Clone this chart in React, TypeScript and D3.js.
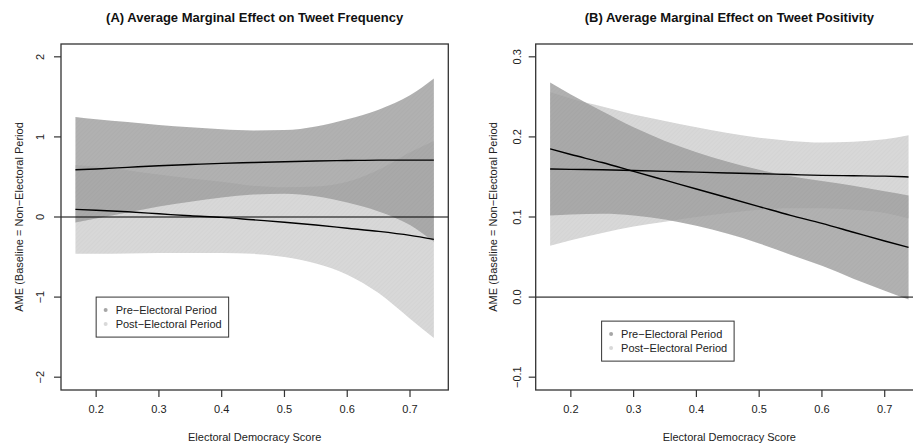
import * as d3 from 'd3'
import { useRef, useEffect } from 'react'

const W = 913
const H = 444

// electoral democracy score grid (x)
const demScore = [0.167, 0.2, 0.25, 0.3, 0.35, 0.4, 0.45, 0.5, 0.55, 0.6, 0.65, 0.7, 0.738]

// (A) tweet frequency
const freqPreFit = [0.59, 0.6, 0.62, 0.64, 0.655, 0.67, 0.68, 0.69, 0.7, 0.705, 0.71, 0.71, 0.71]
const freqPreHi = [1.25, 1.22, 1.185, 1.15, 1.12, 1.095, 1.08, 1.085, 1.13, 1.22, 1.34, 1.52, 1.73]
const freqPreLo = [-0.07, -0.02, 0.055, 0.13, 0.19, 0.245, 0.28, 0.29, 0.26, 0.18, 0.07, -0.1, -0.31]
const freqPostFit = [0.095, 0.085, 0.065, 0.04, 0.015, -0.005, -0.035, -0.065, -0.1, -0.14, -0.18, -0.23, -0.28]
const freqPostHi = [0.65, 0.63, 0.585, 0.53, 0.48, 0.44, 0.39, 0.37, 0.38, 0.44, 0.59, 0.81, 0.95]
const freqPostLo = [-0.46, -0.46, -0.455, -0.45, -0.45, -0.45, -0.46, -0.5, -0.58, -0.72, -0.95, -1.27, -1.51]

// (B) tweet positivity
const posPreFit = [0.185, 0.178, 0.168, 0.157, 0.146, 0.135, 0.124, 0.113, 0.102, 0.092, 0.081, 0.07, 0.062]
const posPreHi = [0.268, 0.253, 0.232, 0.212, 0.195, 0.181, 0.169, 0.159, 0.151, 0.145, 0.139, 0.132, 0.127]
const posPreLo = [0.102, 0.103, 0.104, 0.102, 0.097, 0.089, 0.079, 0.067, 0.053, 0.039, 0.023, 0.008, -0.003]
const posPostFit = [0.16, 0.1595, 0.159, 0.158, 0.157, 0.156, 0.155, 0.154, 0.153, 0.152, 0.1515, 0.151, 0.15]
const posPostHi = [0.256, 0.248, 0.238, 0.228, 0.22, 0.212, 0.205, 0.199, 0.195, 0.193, 0.194, 0.197, 0.202]
const posPostLo = [0.064, 0.071, 0.08, 0.088, 0.094, 0.1, 0.105, 0.109, 0.111, 0.111, 0.109, 0.105, 0.098]

const xTicks = [0.2, 0.3, 0.4, 0.5, 0.6, 0.7]
const freqTicks = [-2, -1, 0, 1, 2]
const freqTickLabels = ['\u22122', '\u22121', '0', '1', '2']
const posTicks = [-0.1, 0, 0.1, 0.2, 0.3]
const posTickLabels = ['\u22120.1', '0.0', '0.1', '0.2', '0.3']
const legendLabels = ['Pre\u2212Electoral Period', 'Post\u2212Electoral Period']

const FONT = "'Liberation Sans', Arial, Helvetica, sans-serif"
const DARK = 'rgb(158,158,158)'
const LIGHT = 'rgb(216,216,216)'

const drawPanel = (svg, opts) => {
  const { id, left, title, yDomain, yTicks, yLabels, pre, post, legendAt, tickOff } = opts
  const top = 44
  const bottom = 390
  const right = left + 387.3

  const x = d3.scaleLinear().domain([0.144, 0.761]).range([left, right])
  const y = d3.scaleLinear().domain(yDomain).range([bottom, top])

  const g = svg.append('g')

  g.append('clipPath')
    .attr('id', 'clip-' + id)
    .append('rect')
    .attr('x', left)
    .attr('y', top)
    .attr('width', right - left)
    .attr('height', bottom - top)

  const plot = g.append('g').attr('clip-path', 'url(#clip-' + id + ')')

  const band = (fit, lo, hi) =>
    d3
      .area()
      .x((d, i) => x(demScore[i]))
      .y0((d, i) => y(lo[i]))
      .y1((d, i) => y(hi[i]))
      .curve(d3.curveMonotoneX)(fit)

  const line = (fit) =>
    d3
      .line()
      .x((d, i) => x(demScore[i]))
      .y((d) => y(d))
      .curve(d3.curveMonotoneX)(fit)

  // post band first (light), then pre band (dark, semi-transparent)
  plot.append('path').attr('d', band(post.fit, post.lo, post.hi)).attr('fill', LIGHT)
  plot.append('path').attr('d', band(post.fit, post.lo, post.hi)).attr('fill', 'url(#hatch)')
  plot
    .append('path')
    .attr('d', band(pre.fit, pre.lo, pre.hi))
    .attr('fill', DARK)
    .attr('fill-opacity', 0.8)
  plot.append('path').attr('d', band(pre.fit, pre.lo, pre.hi)).attr('fill', 'url(#hatch)')

  plot
    .append('line')
    .attr('x1', left)
    .attr('x2', right)
    .attr('y1', y(0))
    .attr('y2', y(0))
    .attr('stroke', '#000')
    .attr('stroke-width', 1)

  ;[pre.fit, post.fit].forEach((fit) => {
    plot
      .append('path')
      .attr('d', line(fit))
      .attr('fill', 'none')
      .attr('stroke', '#000')
      .attr('stroke-width', 1.4)
  })

  // box
  g.append('rect')
    .attr('x', left)
    .attr('y', top)
    .attr('width', right - left)
    .attr('height', bottom - top)
    .attr('fill', 'none')
    .attr('stroke', '#333')
    .attr('stroke-width', 1.3)

  // x axis
  xTicks.forEach((t) => {
    g.append('line')
      .attr('x1', x(t))
      .attr('x2', x(t))
      .attr('y1', bottom)
      .attr('y2', bottom + 7)
      .attr('stroke', '#333')
      .attr('stroke-width', 1.2)
    g.append('text')
      .attr('x', x(t))
      .attr('y', 413)
      .attr('text-anchor', 'middle')
      .attr('font-size', 11)
      .attr('fill', '#222')
      .text(t.toFixed(1))
  })

  // y axis
  yTicks.forEach((t, i) => {
    g.append('line')
      .attr('x1', left - 7)
      .attr('x2', left)
      .attr('y1', y(t))
      .attr('y2', y(t))
      .attr('stroke', '#333')
      .attr('stroke-width', 1.2)
    g.append('text')
      .attr('transform', 'translate(' + (left - tickOff) + ',' + y(t) + ') rotate(-90)')
      .attr('text-anchor', 'middle')
      .attr('font-size', 11)
      .attr('fill', '#222')
      .text(yLabels[i])
  })

  g.append('text')
    .attr('x', (left + right) / 2)
    .attr('y', 22)
    .attr('text-anchor', 'middle')
    .attr('font-size', 13)
    .attr('font-weight', 'bold')
    .attr('fill', '#111')
    .text(title)

  g.append('text')
    .attr('x', (left + right) / 2)
    .attr('y', 441)
    .attr('text-anchor', 'middle')
    .attr('font-size', 11)
    .attr('fill', '#222')
    .text('Electoral Democracy Score')

  g.append('text')
    .attr('transform', 'translate(' + (left - 38.5) + ',' + (top + bottom) / 2 + ') rotate(-90)')
    .attr('text-anchor', 'middle')
    .attr('font-size', 11)
    .attr('fill', '#222')
    .text('AME (Baseline = Non\u2212Electoral Period')

  // legend
  const lx = x(legendAt[0])
  const ly = y(legendAt[1])
  g.append('rect')
    .attr('x', lx)
    .attr('y', ly)
    .attr('width', 132.5)
    .attr('height', 40)
    .attr('fill', '#fff')
    .attr('stroke', '#333')
    .attr('stroke-width', 1)
  legendLabels.forEach((lab, i) => {
    g.append('circle')
      .attr('cx', lx + 9.5)
      .attr('cy', ly + 13 + i * 14)
      .attr('r', 2)
      .attr('fill', i === 0 ? '#a6a6a6' : '#d9d9d9')
    g.append('text')
      .attr('x', lx + 19.5)
      .attr('y', ly + 17 + i * 14)
      .attr('font-size', 11)
      .attr('fill', '#222')
      .text(lab)
  })
}

const App = () => {
  const ref = useRef(null)

  useEffect(() => {
    const svg = d3.select(ref.current)
    svg.selectAll('*').remove()
    svg.attr('font-family', FONT)

    const defs = svg.append('defs')
    const pat = defs
      .append('pattern')
      .attr('id', 'hatch')
      .attr('patternUnits', 'userSpaceOnUse')
      .attr('width', 3)
      .attr('height', 3)
      .attr('patternTransform', 'rotate(45)')
    pat
      .append('line')
      .attr('x1', 0)
      .attr('y1', 0)
      .attr('x2', 0)
      .attr('y2', 3)
      .attr('stroke', '#000')
      .attr('stroke-opacity', 0.035)
      .attr('stroke-width', 1)

    drawPanel(svg, {
      id: 'a',
      left: 61,
      title: '(A) Average Marginal Effect on Tweet Frequency',
      yDomain: [-2.16, 2.16],
      yTicks: freqTicks,
      yLabels: freqTickLabels,
      pre: { fit: freqPreFit, lo: freqPreLo, hi: freqPreHi },
      post: { fit: freqPostFit, lo: freqPostLo, hi: freqPostHi },
      legendAt: [0.2, -1.0],
      tickOff: 17
    })

    drawPanel(svg, {
      id: 'b',
      left: 535.7,
      title: '(B) Average Marginal Effect on Tweet Positivity',
      yDomain: [-0.116, 0.316],
      yTicks: posTicks,
      yLabels: posTickLabels,
      pre: { fit: posPreFit, lo: posPreLo, hi: posPreHi },
      post: { fit: posPostFit, lo: posPostLo, hi: posPostHi },
      legendAt: [0.249, -0.03],
      tickOff: 14.5
    })
  }, [])

  return (
    <svg
      ref={ref}
      width={W}
      height={H}
      style={{ position: 'absolute', left: 0, top: 0, background: '#fff' }}
    ></svg>
  )
}

export default App
